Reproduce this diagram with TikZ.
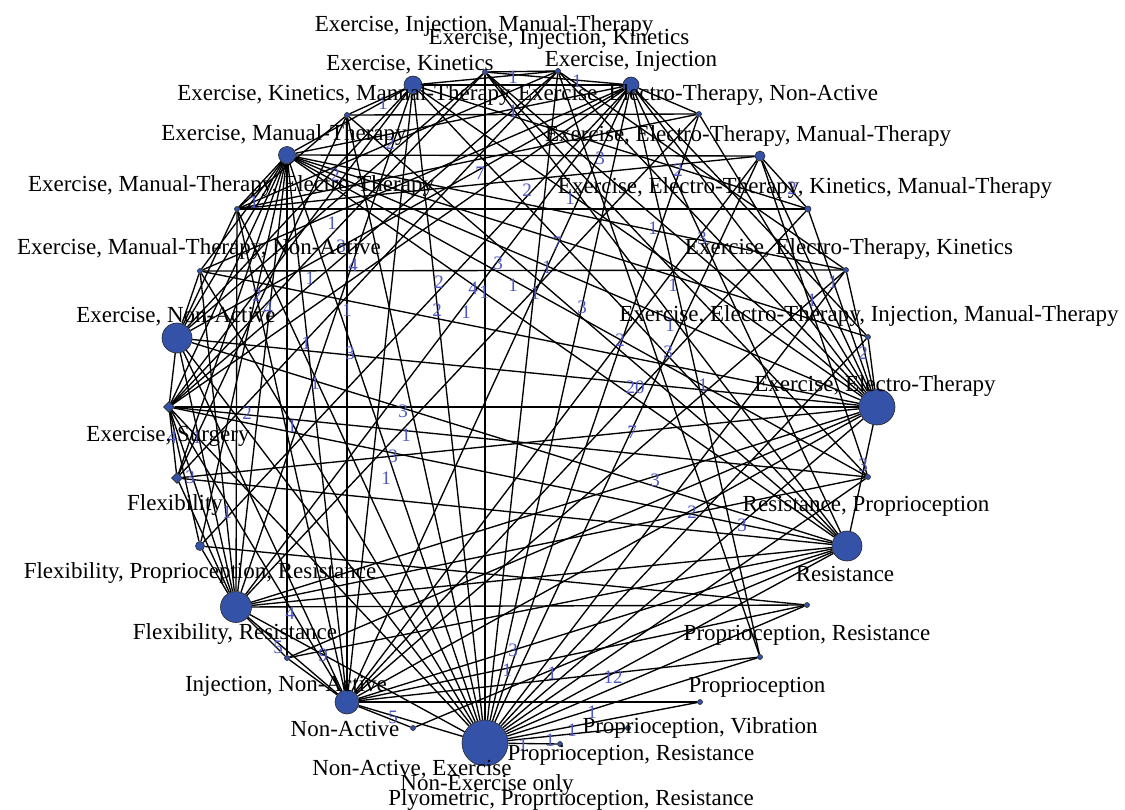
\documentclass[tikz,border=0pt]{standalone}
\usepackage{fontspec}
\setmainfont{Liberation Serif}
\usetikzlibrary{shapes.geometric}
\pgfdeclarelayer{bg}
\pgfsetlayers{bg,main}
\definecolor{dotblue}{RGB}{52,82,168}
\definecolor{numblue}{RGB}{78,88,196}
\tikzset{
  dot/.style={circle, fill=dotblue, draw=black!85, line width=0.6pt, inner sep=0pt},
  ddot/.style={diamond, fill=dotblue, draw=black!85, line width=0.6pt, inner sep=0pt},
  lab/.style={font=\fontsize{23}{27}\selectfont, inner sep=0pt, text height=15pt, text depth=0pt, text=black},
  num/.style={font=\fontsize{19}{22}\selectfont, inner sep=0pt, text height=13pt, text depth=0pt, text=numblue},
  edgeline/.style={draw=black, line width=1.35pt},
}
\begin{document}
\begin{tikzpicture}[x=1pt,y=-1pt]
\useasboundingbox (0,0) rectangle (1125,809);
% ---- nodes (dots) ----
\node[dot, minimum size=5pt]  (EIMT)   at (485,72)  {};
\node[dot, minimum size=5pt]  (EIK)    at (558,71)  {};
\node[dot, minimum size=16pt] (EI)     at (631,85)  {};
\node[dot, minimum size=5pt]  (EETNA)  at (699,114) {};
\node[dot, minimum size=10pt] (EETMT)  at (760,156) {};
\node[dot, minimum size=6pt]  (EETKMT) at (808,209) {};
\node[dot, minimum size=5pt]  (EETK)   at (846,270) {};
\node[dot, minimum size=5pt]  (EETIMT) at (868,337) {};
\node[dot, minimum size=36pt] (EET)    at (877,407) {};
\node[dot, minimum size=5pt]  (RP)     at (868,477) {};
\node[dot, minimum size=30pt] (R)      at (847,546) {};
\node[dot, minimum size=5pt]  (PR1)    at (807,605) {};
\node[dot, minimum size=5pt]  (P)      at (760,657) {};
\node[dot, minimum size=5pt]  (PV)     at (700,702) {};
\node[dot, minimum size=5pt]  (PR2)    at (628,728) {};
\node[dot, minimum size=5pt]  (PPR)    at (560,744) {};
\node[dot, minimum size=46pt] (NEO)    at (485,743) {};
\node[dot, minimum size=5pt]  (NAE)    at (413,728) {};
\node[dot, minimum size=24pt] (NA)     at (347,702) {};
\node[dot, minimum size=5pt]  (INA)    at (287,658) {};
\node[dot, minimum size=31pt] (FR)     at (236,607) {};
\node[dot, minimum size=9pt]  (FPR)    at (200,546) {};
\node[ddot, minimum size=11pt] (F)     at (177,478) {};
\node[ddot, minimum size=11pt] (ES)    at (169,407) {};
\node[dot, minimum size=30pt] (ENA)    at (177,338) {};
\node[dot, minimum size=5pt]  (EMTNA)  at (200,271) {};
\node[dot, minimum size=5pt]  (EMTET)  at (237,209) {};
\node[dot, minimum size=17pt] (EMT)    at (287,155) {};
\node[dot, minimum size=5pt]  (EKMT)   at (347,115) {};
\node[dot, minimum size=18pt] (EK)     at (413,85)  {};
% ---- connectors ----
\begin{pgfonlayer}{bg}
\fill[white] (0,0) rectangle (1125,809);
\foreach \a/\b in {
  EIMT/EIK, EIMT/EI, EIMT/NEO, EIMT/R, EIMT/RP, EIMT/ENA, EIMT/EET, EIMT/ES,
  EIK/EK, EIK/EMTET, EIK/ES, EIK/F, EIK/EET, EIK/P, EIK/NEO, EIK/EETK,
  EI/EK, EI/EETNA, EI/EMT, EI/EMTNA, EI/ENA, EI/ES, EI/FR, EI/NA, EI/NEO, EI/EET,
  EI/R, EI/EETIMT, EI/FPR, EI/P,
  EETNA/EKMT, EETNA/NEO, EETNA/EET, EETNA/FR, EETNA/EMTET,
  EETMT/EMT, EETMT/EETKMT, EETMT/EET, EETMT/RP, EETMT/EMTET, EETMT/NEO, EETMT/NA,
  EETKMT/EMTET, EETKMT/EK, EETKMT/EET, EETKMT/NA,
  EETK/EET, EETK/EMTNA, EETK/EMT, EETK/NA, EETK/NEO,
  EETIMT/EET, EETIMT/EMT, EETIMT/NEO,
  EET/R, EET/ENA, EET/ES, EET/EK, EET/FR, EET/NA, EET/NEO, EET/EMT, EET/F, EET/INA, EET/EMTNA,
  RP/EMT, RP/NEO, RP/FR, RP/ES,
  R/EK, R/EMT, R/ENA, R/ES, R/F, R/FR, R/NA, R/NEO, R/NAE, R/INA, R/EKMT,
  PR1/NEO, PR1/FR, PR1/NA, PR1/FPR,
  P/NEO, P/NA, PV/NEO, PV/NA, PR2/NEO, PPR/NEO,
  NEO/EK, NEO/EKMT, NEO/EMT, NEO/EMTET, NEO/EMTNA, NEO/ENA, NEO/ES, NEO/FR, NEO/NA,
  NAE/NA, NA/EKMT, NA/EK, NA/EMT, NA/ENA, NA/ES, NA/FR, NA/INA, NA/EMTET,
  INA/FR, INA/EMT,
  FR/EK, FR/EMT, FR/ENA, FR/ES, FR/F, FR/FPR, FR/EMTNA, FR/EMTET,
  FPR/EMT, FPR/ES, F/ES, F/EMT, F/EKMT,
  ES/ENA, ES/EMT, ES/EK, ENA/EMTNA, ENA/EMTET, ENA/EMT, ENA/EK,
  EMTNA/EMT, EMTET/EMT, EMT/EK, EKMT/EK, EKMT/EMTET}
  \draw[edgeline] (\a) -- (\b);
\end{pgfonlayer}
% ---- connector weights ----
\foreach \x/\y/\t [count=\i] in {
  513/77/1, 577/81/1, 513/111/1, 383/103/1, 390/143/2, 335/175/2, 254/202/1,
  332/223/1, 341/246/3, 353/265/4, 480/173/7, 527/190/2, 600/158/3, 678/170/2,
  570/198/1, 653/228/1, 702/238/3, 557/243/7, 792/188/2, 833/282/1, 812/300/1,
  863/353/2, 863/465/3, 310/278/1, 347/310/1, 306/343/1, 350/353/3, 315/383/1,
  292/426/1, 439/282/2, 437/310/2, 473/288/4, 484/292/1, 466/312/1, 498/263/3,
  513/285/1, 535/293/1, 547/267/1, 582/307/3, 673/285/1, 670/325/1, 620/340/2,
  668/352/3, 635/387/20, 632/432/7, 655/480/3, 403/411/3, 406/435/1, 393/456/3,
  386/478/1, 703/385/1, 692/512/2, 742/525/3, 247/413/2, 190/477/3, 172/437/4,
  197/437/1, 227/512/1, 257/295/2, 268/308/4, 290/613/4, 278/647/5, 323/655/9,
  513/650/3, 507/670/1, 393/717/5, 552/673/1, 613/677/12, 592/712/1, 572/730/1,
  550/740/1, 523/745/1}
  \node[num] (w\i) at (\x,\y) {\t};
% ---- node labels ----
\node[lab] (tEIMT)   at (484,24)  {Exercise, Injection, Manual-Therapy};
\node[lab] (tEIK)    at (559,37)  {Exercise, Injection, Kinetics};
\node[lab] (tEI)     at (631,59)  {Exercise, Injection};
\node[lab] (tEK)     at (410,63)  {Exercise, Kinetics};
\node[lab] (tEKMT)   at (344,93)  {Exercise, Kinetics, Manual-Therapy};
\node[lab] (tEETNA)  at (698,93)  {Exercise, Electro-Therapy, Non-Active};
\node[lab] (tEMT)    at (284,133) {Exercise, Manual-Therapy};
\node[lab] (tEETMT)  at (748,134) {Exercise, Electro-Therapy, Manual-Therapy};
\node[lab] (tEMTET)  at (231,184) {Exercise, Manual-Therapy, Electro-Therapy};
\node[lab] (tEETKMT) at (805,186) {Exercise, Electro-Therapy, Kinetics, Manual-Therapy};
\node[lab] (tEMTNA)  at (199,247) {Exercise, Manual-Therapy, Non-Active};
\node[lab] (tEETK)   at (849,247) {Exercise, Electro-Therapy, Kinetics};
\node[lab] (tENA)    at (176,315) {Exercise, Non-Active};
\node[lab] (tEETIMT) at (869,314) {Exercise, Electro-Therapy, Injection, Manual-Therapy};
\node[lab] (tEET)    at (875,384) {Exercise, Electro-Therapy};
\node[lab] (tES)     at (168,434) {Exercise, Surgery};
\node[lab] (tRP)     at (866,504) {Resistance, Proprioception};
\node[lab] (tF)      at (175,503) {Flexibility};
\node[lab] (tFPR)    at (200,571) {Flexibility, Proprioception, Resistance};
\node[lab] (tR)      at (845,574) {Resistance};
\node[lab] (tFR)     at (235,632) {Flexibility, Resistance};
\node[lab] (tPR1)    at (807,633) {Proprioception, Resistance};
\node[lab] (tINA)    at (286,684) {Injection, Non-Active};
\node[lab] (tP)      at (757,685) {Proprioception};
\node[lab] (tNA)     at (345,729) {Non-Active};
\node[lab] (tPV)     at (700,726) {Proprioception, Vibration};
\node[lab] (tPR2)    at (631,753) {Proprioception, Resistance};
\node[lab] (tNAE)    at (412,768) {Non-Active, Exercise};
\node[lab] (tNEO)    at (487,783) {Non-Exercise only};
\node[lab] (tPPR)    at (571,798) {Plyometric, Proprtioception, Resistance};
\end{tikzpicture}
\end{document}
